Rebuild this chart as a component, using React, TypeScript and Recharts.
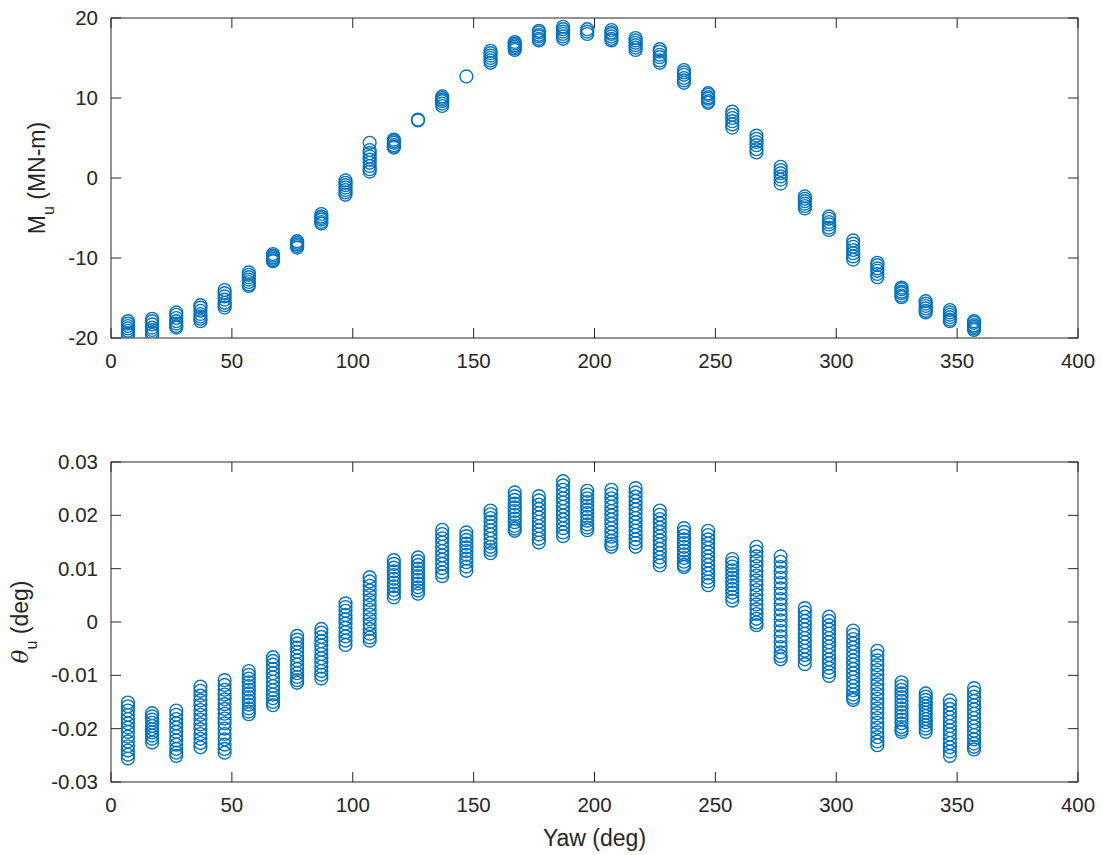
import React from 'react';
import { ScatterChart, Scatter, XAxis, YAxis, ReferenceLine } from 'recharts';

// yaw angle of each column of points (deg)
const yawDeg = [7, 17, 27, 37, 47, 57, 67, 77, 87, 97, 107, 117, 127, 137, 147, 157, 167, 177, 187, 197, 207, 217, 227, 237, 247, 257, 267, 277, 287, 297, 307, 317, 327, 337, 347, 357];

// M_u (MN-m), one list per yaw column
const momentByYaw: number[][] = [
  [-17.9, -18.2, -18.5, -18.8, -19.1, -19.4, -19.6],
  [-17.6, -17.9, -18.3, -18.7, -19.0, -19.3, -19.6],
  [-16.8, -17.1, -17.5, -17.9, -18.2, -18.5, -18.7],
  [-15.9, -16.2, -16.6, -17.0, -17.3, -17.6, -17.9],
  [-14.0, -14.4, -14.8, -15.2, -15.6, -15.9, -16.2],
  [-11.8, -12.1, -12.4, -12.7, -13.0, -13.3, -13.5],
  [-9.5, -9.7, -9.9, -10.1, -10.3, -10.4],
  [-7.9, -8.1, -8.3, -8.5, -8.7],
  [-4.5, -4.8, -5.0, -5.2, -5.5, -5.7],
  [-0.3, -0.6, -0.9, -1.2, -1.5, -1.8, -2.1],
  [4.4, 3.5, 3.1, 2.7, 2.3, 1.9, 1.5, 1.1, 0.8],
  [4.8, 4.6, 4.4, 4.1, 3.9, 3.8],
  [7.3, 7.2],
  [10.2, 10.0, 9.8, 9.6, 9.3, 9.0],
  [12.7],
  [15.9, 15.6, 15.3, 15.0, 14.7, 14.4],
  [17.0, 16.8, 16.6, 16.4, 16.2, 16.0],
  [18.4, 18.2, 17.9, 17.7, 17.4, 17.2],
  [18.9, 18.6, 18.3, 18.0, 17.7, 17.4],
  [18.6, 18.3, 18.0],
  [18.5, 18.2, 18.0, 17.7, 17.4, 17.2],
  [17.5, 17.2, 16.9, 16.6, 16.3, 16.0],
  [16.1, 15.8, 15.4, 15.1, 14.7, 14.4],
  [13.5, 13.2, 12.9, 12.5, 12.2, 11.9],
  [10.6, 10.4, 10.1, 9.9, 9.6, 9.4],
  [8.3, 7.9, 7.5, 7.1, 6.7, 6.3],
  [5.3, 4.9, 4.5, 4.1, 3.6, 3.2],
  [1.4, 1.0, 0.6, 0.2, -0.2, -0.7],
  [-2.3, -2.6, -2.9, -3.2, -3.5, -3.8],
  [-4.8, -5.1, -5.5, -5.8, -6.2, -6.5],
  [-7.8, -8.2, -8.6, -9.0, -9.4, -9.8, -10.2],
  [-10.6, -10.9, -11.3, -11.6, -12.0, -12.4],
  [-13.7, -13.9, -14.2, -14.4, -14.7, -14.9],
  [-15.4, -15.7, -16.0, -16.3, -16.6, -16.8],
  [-16.5, -16.8, -17.1, -17.4, -17.7, -17.9],
  [-17.9, -18.1, -18.4, -18.6, -18.8, -19.0],
];

// theta_u (deg), one list per yaw column
const thetaByYaw: number[][] = [
  [-0.0151, -0.0158, -0.0166, -0.0174, -0.0182, -0.0190, -0.0198, -0.0206, -0.0215, -0.0224, -0.0233, -0.0241, -0.0249, -0.0256],
  [-0.0171, -0.0177, -0.0183, -0.0189, -0.0195, -0.0201, -0.0207, -0.0213, -0.0219, -0.0226],
  [-0.0166, -0.0174, -0.0182, -0.0190, -0.0198, -0.0206, -0.0214, -0.0222, -0.0230, -0.0238, -0.0245, -0.0251],
  [-0.0121, -0.0129, -0.0138, -0.0147, -0.0156, -0.0165, -0.0174, -0.0183, -0.0192, -0.0201, -0.0210, -0.0219, -0.0227, -0.0235],
  [-0.0109, -0.0118, -0.0127, -0.0136, -0.0145, -0.0154, -0.0163, -0.0172, -0.0181, -0.0190, -0.0200, -0.0210, -0.0220, -0.0230, -0.0238, -0.0245],
  [-0.0092, -0.0099, -0.0106, -0.0113, -0.0120, -0.0127, -0.0134, -0.0141, -0.0148, -0.0155, -0.0162, -0.0168, -0.0173],
  [-0.0066, -0.0073, -0.0080, -0.0088, -0.0096, -0.0104, -0.0112, -0.0120, -0.0128, -0.0136, -0.0143, -0.0150, -0.0156],
  [-0.0026, -0.0033, -0.0040, -0.0048, -0.0056, -0.0064, -0.0072, -0.0080, -0.0088, -0.0096, -0.0103, -0.0109, -0.0114],
  [-0.0013, -0.0020, -0.0028, -0.0036, -0.0044, -0.0052, -0.0060, -0.0068, -0.0076, -0.0084, -0.0092, -0.0099, -0.0106],
  [0.0035, 0.0028, 0.0021, 0.0013, 0.0005, -0.0003, -0.0011, -0.0019, -0.0027, -0.0035, -0.0043],
  [0.0084, 0.0076, 0.0068, 0.0059, 0.0050, 0.0041, 0.0032, 0.0023, 0.0014, 0.0005, -0.0004, -0.0013, -0.0022, -0.0029, -0.0035],
  [0.0116, 0.0109, 0.0102, 0.0095, 0.0088, 0.0081, 0.0074, 0.0067, 0.0060, 0.0053, 0.0046],
  [0.0121, 0.0114, 0.0107, 0.0100, 0.0093, 0.0086, 0.0079, 0.0072, 0.0065, 0.0059, 0.0053],
  [0.0173, 0.0165, 0.0157, 0.0149, 0.0141, 0.0133, 0.0125, 0.0117, 0.0109, 0.0101, 0.0093, 0.0086],
  [0.0168, 0.0161, 0.0154, 0.0147, 0.0140, 0.0133, 0.0126, 0.0119, 0.0112, 0.0104, 0.0096],
  [0.0209, 0.0202, 0.0195, 0.0188, 0.0180, 0.0172, 0.0164, 0.0156, 0.0148, 0.0141, 0.0135, 0.0129],
  [0.0243, 0.0236, 0.0229, 0.0222, 0.0215, 0.0208, 0.0201, 0.0194, 0.0187, 0.0180, 0.0175, 0.0171],
  [0.0236, 0.0228, 0.0220, 0.0212, 0.0204, 0.0196, 0.0188, 0.0180, 0.0172, 0.0164, 0.0156, 0.0149],
  [0.0264, 0.0256, 0.0248, 0.0240, 0.0232, 0.0224, 0.0216, 0.0208, 0.0200, 0.0192, 0.0184, 0.0176, 0.0168, 0.0161],
  [0.0246, 0.0239, 0.0232, 0.0225, 0.0218, 0.0211, 0.0204, 0.0197, 0.0190, 0.0183, 0.0177, 0.0172],
  [0.0248, 0.0240, 0.0232, 0.0224, 0.0216, 0.0208, 0.0200, 0.0192, 0.0184, 0.0176, 0.0168, 0.0160, 0.0152, 0.0146, 0.0141],
  [0.0251, 0.0243, 0.0235, 0.0227, 0.0219, 0.0211, 0.0203, 0.0195, 0.0187, 0.0179, 0.0171, 0.0163, 0.0155, 0.0148, 0.0141],
  [0.0209, 0.0201, 0.0193, 0.0185, 0.0177, 0.0169, 0.0161, 0.0153, 0.0145, 0.0137, 0.0129, 0.0121, 0.0113, 0.0106],
  [0.0176, 0.0169, 0.0162, 0.0155, 0.0148, 0.0141, 0.0134, 0.0127, 0.0120, 0.0113, 0.0107, 0.0103],
  [0.0171, 0.0163, 0.0155, 0.0147, 0.0139, 0.0131, 0.0123, 0.0115, 0.0107, 0.0099, 0.0091, 0.0083, 0.0076, 0.0069],
  [0.0118, 0.0111, 0.0104, 0.0097, 0.0090, 0.0083, 0.0076, 0.0069, 0.0062, 0.0055, 0.0047, 0.0040],
  [0.0141, 0.0132, 0.0123, 0.0114, 0.0105, 0.0096, 0.0087, 0.0078, 0.0069, 0.0060, 0.0051, 0.0042, 0.0033, 0.0024, 0.0015, 0.0006, -0.0001, -0.0006],
  [0.0123, 0.0113, 0.0103, 0.0093, 0.0083, 0.0073, 0.0063, 0.0053, 0.0043, 0.0033, 0.0023, 0.0013, 0.0003, -0.0007, -0.0017, -0.0027, -0.0037, -0.0047, -0.0057, -0.0064, -0.0070],
  [0.0026, 0.0018, 0.0010, 0.0002, -0.0006, -0.0014, -0.0022, -0.0030, -0.0038, -0.0046, -0.0054, -0.0062, -0.0070, -0.0079],
  [0.0010, 0.0002, -0.0006, -0.0014, -0.0022, -0.0030, -0.0038, -0.0046, -0.0054, -0.0062, -0.0070, -0.0078, -0.0086, -0.0094, -0.0101],
  [-0.0016, -0.0024, -0.0032, -0.0040, -0.0048, -0.0056, -0.0064, -0.0072, -0.0080, -0.0088, -0.0096, -0.0104, -0.0112, -0.0120, -0.0128, -0.0136, -0.0142, -0.0146],
  [-0.0054, -0.0063, -0.0072, -0.0081, -0.0090, -0.0099, -0.0108, -0.0117, -0.0126, -0.0135, -0.0144, -0.0153, -0.0162, -0.0171, -0.0180, -0.0189, -0.0198, -0.0207, -0.0216, -0.0224, -0.0231],
  [-0.0113, -0.0120, -0.0127, -0.0134, -0.0141, -0.0148, -0.0155, -0.0162, -0.0169, -0.0176, -0.0183, -0.0190, -0.0197, -0.0202, -0.0206],
  [-0.0134, -0.0140, -0.0146, -0.0152, -0.0158, -0.0164, -0.0170, -0.0176, -0.0182, -0.0188, -0.0194, -0.0200, -0.0206],
  [-0.0147, -0.0155, -0.0163, -0.0171, -0.0179, -0.0187, -0.0195, -0.0203, -0.0211, -0.0219, -0.0227, -0.0235, -0.0243, -0.0251],
  [-0.0124, -0.0132, -0.0140, -0.0148, -0.0156, -0.0164, -0.0172, -0.0180, -0.0188, -0.0196, -0.0204, -0.0212, -0.0220, -0.0228, -0.0234, -0.0239],
];

const yawTicks = [0, 50, 100, 150, 200, 250, 300, 350, 400];
const momentTicks = [-20, -10, 0, 10, 20];
const thetaTicks = [-0.03, -0.02, -0.01, 0, 0.01, 0.02, 0.03];

const FONT = '"Liberation Sans", Arial, Helvetica, sans-serif';
const INK = '#262626';
const BLUE = '#0072BD';
const PLOT_W = 967;
const PLOT_H = 320;
const TICK = 10;

const toPoints = (cols: number[][]) =>
  cols.flatMap((vals, i) => vals.map((v) => ({ x: yawDeg[i], y: v })));

const momentPts = toPoints(momentByYaw);
const thetaPts = toPoints(thetaByYaw);

const Ring = (props: any) => {
  const { cx, cy } = props;
  if (cx == null || cy == null) return null;
  return <circle cx={cx} cy={cy} r={6.4} fill="none" stroke={BLUE} strokeWidth={1.4} />;
};

// bottom tick: inward tick on bottom and top edge, label below
const XTick = ({ x, y, payload }: any) => (
  <g>
    <line x1={x} y1={y} x2={x} y2={y - TICK} stroke={INK} />
    <line x1={x} y1={y - PLOT_H} x2={x} y2={y - PLOT_H + TICK} stroke={INK} />
    <text x={x} y={y + 30} textAnchor="middle" fontSize={20.5} fontFamily={FONT} fill={INK}>
      {payload.value}
    </text>
  </g>
);

// left tick: inward tick on left and right edge, label to the left
const YTick = ({ x, y, payload, fmt }: any) => (
  <g>
    <line x1={x} y1={y} x2={x + TICK} y2={y} stroke={INK} />
    <line x1={x + PLOT_W} y1={y} x2={x + PLOT_W - TICK} y2={y} stroke={INK} />
    <text x={x - 13} y={y + 7} textAnchor="end" fontSize={20.5} fontFamily={FONT} fill={INK}>
      {fmt(payload.value)}
    </text>
  </g>
);

const YLabel = ({ viewBox, base, sym, rest, italic }: any) => {
  const cy = viewBox.y + viewBox.height / 2;
  return (
    <text
      x={base}
      y={cy}
      transform={`rotate(-90, ${base}, ${cy})`}
      textAnchor="middle"
      fontSize={23}
      fontFamily={FONT}
      fill={INK}
    >
      <tspan fontStyle={italic ? 'italic' : 'normal'} fontFamily={italic ? '"DejaVu Serif", serif' : FONT}>{sym}</tspan>
      <tspan dy={9} fontSize={16}>u</tspan>
      <tspan dy={-9}>{rest}</tspan>
    </text>
  );
};

type PanelProps = {
  height: number;
  marginTop: number;
  marginBottom: number;
  xAxisHeight: number;
  data: { x: number; y: number }[];
  yDomain: [number, number];
  yTicks: number[];
  yFmt: (v: number) => string;
  label: React.ReactNode;
  xLabel?: boolean;
};

const Panel = ({ height, marginTop, marginBottom, xAxisHeight, data, yDomain, yTicks, yFmt, label, xLabel }: PanelProps) => (
  <ScatterChart width={1102} height={height} margin={{ top: marginTop, right: 24, bottom: marginBottom, left: 51 }}>
    <XAxis
      xAxisId="b"
      type="number"
      dataKey="x"
      domain={[0, 400]}
      ticks={yawTicks}
      interval={0}
      allowDataOverflow
      height={xAxisHeight}
      axisLine={{ stroke: INK, strokeWidth: 1 }}
      tickLine={false}
      tickSize={0}
      tickMargin={0}
      tick={<XTick />}
      label={
        xLabel
          ? {
              content: (p: any) => (
                <text
                  x={p.viewBox.x + p.viewBox.width / 2}
                  y={p.viewBox.y + 64}
                  textAnchor="middle"
                  fontSize={23}
                  fontFamily={FONT}
                  fill={INK}
                >
                  Yaw (deg)
                </text>
              ),
            }
          : undefined
      }
    />
    <YAxis
      yAxisId="l"
      type="number"
      dataKey="y"
      domain={yDomain}
      ticks={yTicks}
      interval={0}
      allowDataOverflow
      width={60}
      axisLine={{ stroke: INK, strokeWidth: 1 }}
      tickLine={false}
      tickSize={0}
      tickMargin={0}
      tick={<YTick fmt={yFmt} />}
      label={{ content: (p: any) => React.cloneElement(label as any, { viewBox: p.viewBox }) }}
    />
    <ReferenceLine xAxisId="b" yAxisId="l" y={yDomain[1]} stroke={INK} strokeWidth={1} ifOverflow="visible" />
    <ReferenceLine xAxisId="b" yAxisId="l" x={400} stroke={INK} strokeWidth={1} ifOverflow="visible" />
    <Scatter xAxisId="b" yAxisId="l" data={data} shape={<Ring />} isAnimationActive={false} />
  </ScatterChart>
);

export default function App() {
  return (
    <div style={{ position: 'absolute', left: 0, top: 0, width: 1102, height: 855, background: '#fff' }}>
      <Panel
        height={430}
        marginTop={18}
        marginBottom={52}
        xAxisHeight={40}
        data={momentPts}
        yDomain={[-20, 20]}
        yTicks={momentTicks}
        yFmt={(v) => String(v)}
        label={<YLabel base={45} sym="M" rest=" (MN-m)" />}
      />
      <Panel
        height={425}
        marginTop={32}
        marginBottom={23}
        xAxisHeight={50}
        data={thetaPts}
        yDomain={[-0.03, 0.03]}
        yTicks={thetaTicks}
        yFmt={(v) => (Math.abs(v) < 1e-9 ? '0' : v.toFixed(2))}
        label={<YLabel base={28} sym={'\u03b8'} rest=" (deg)" italic />}
        xLabel
      />
    </div>
  );
}
